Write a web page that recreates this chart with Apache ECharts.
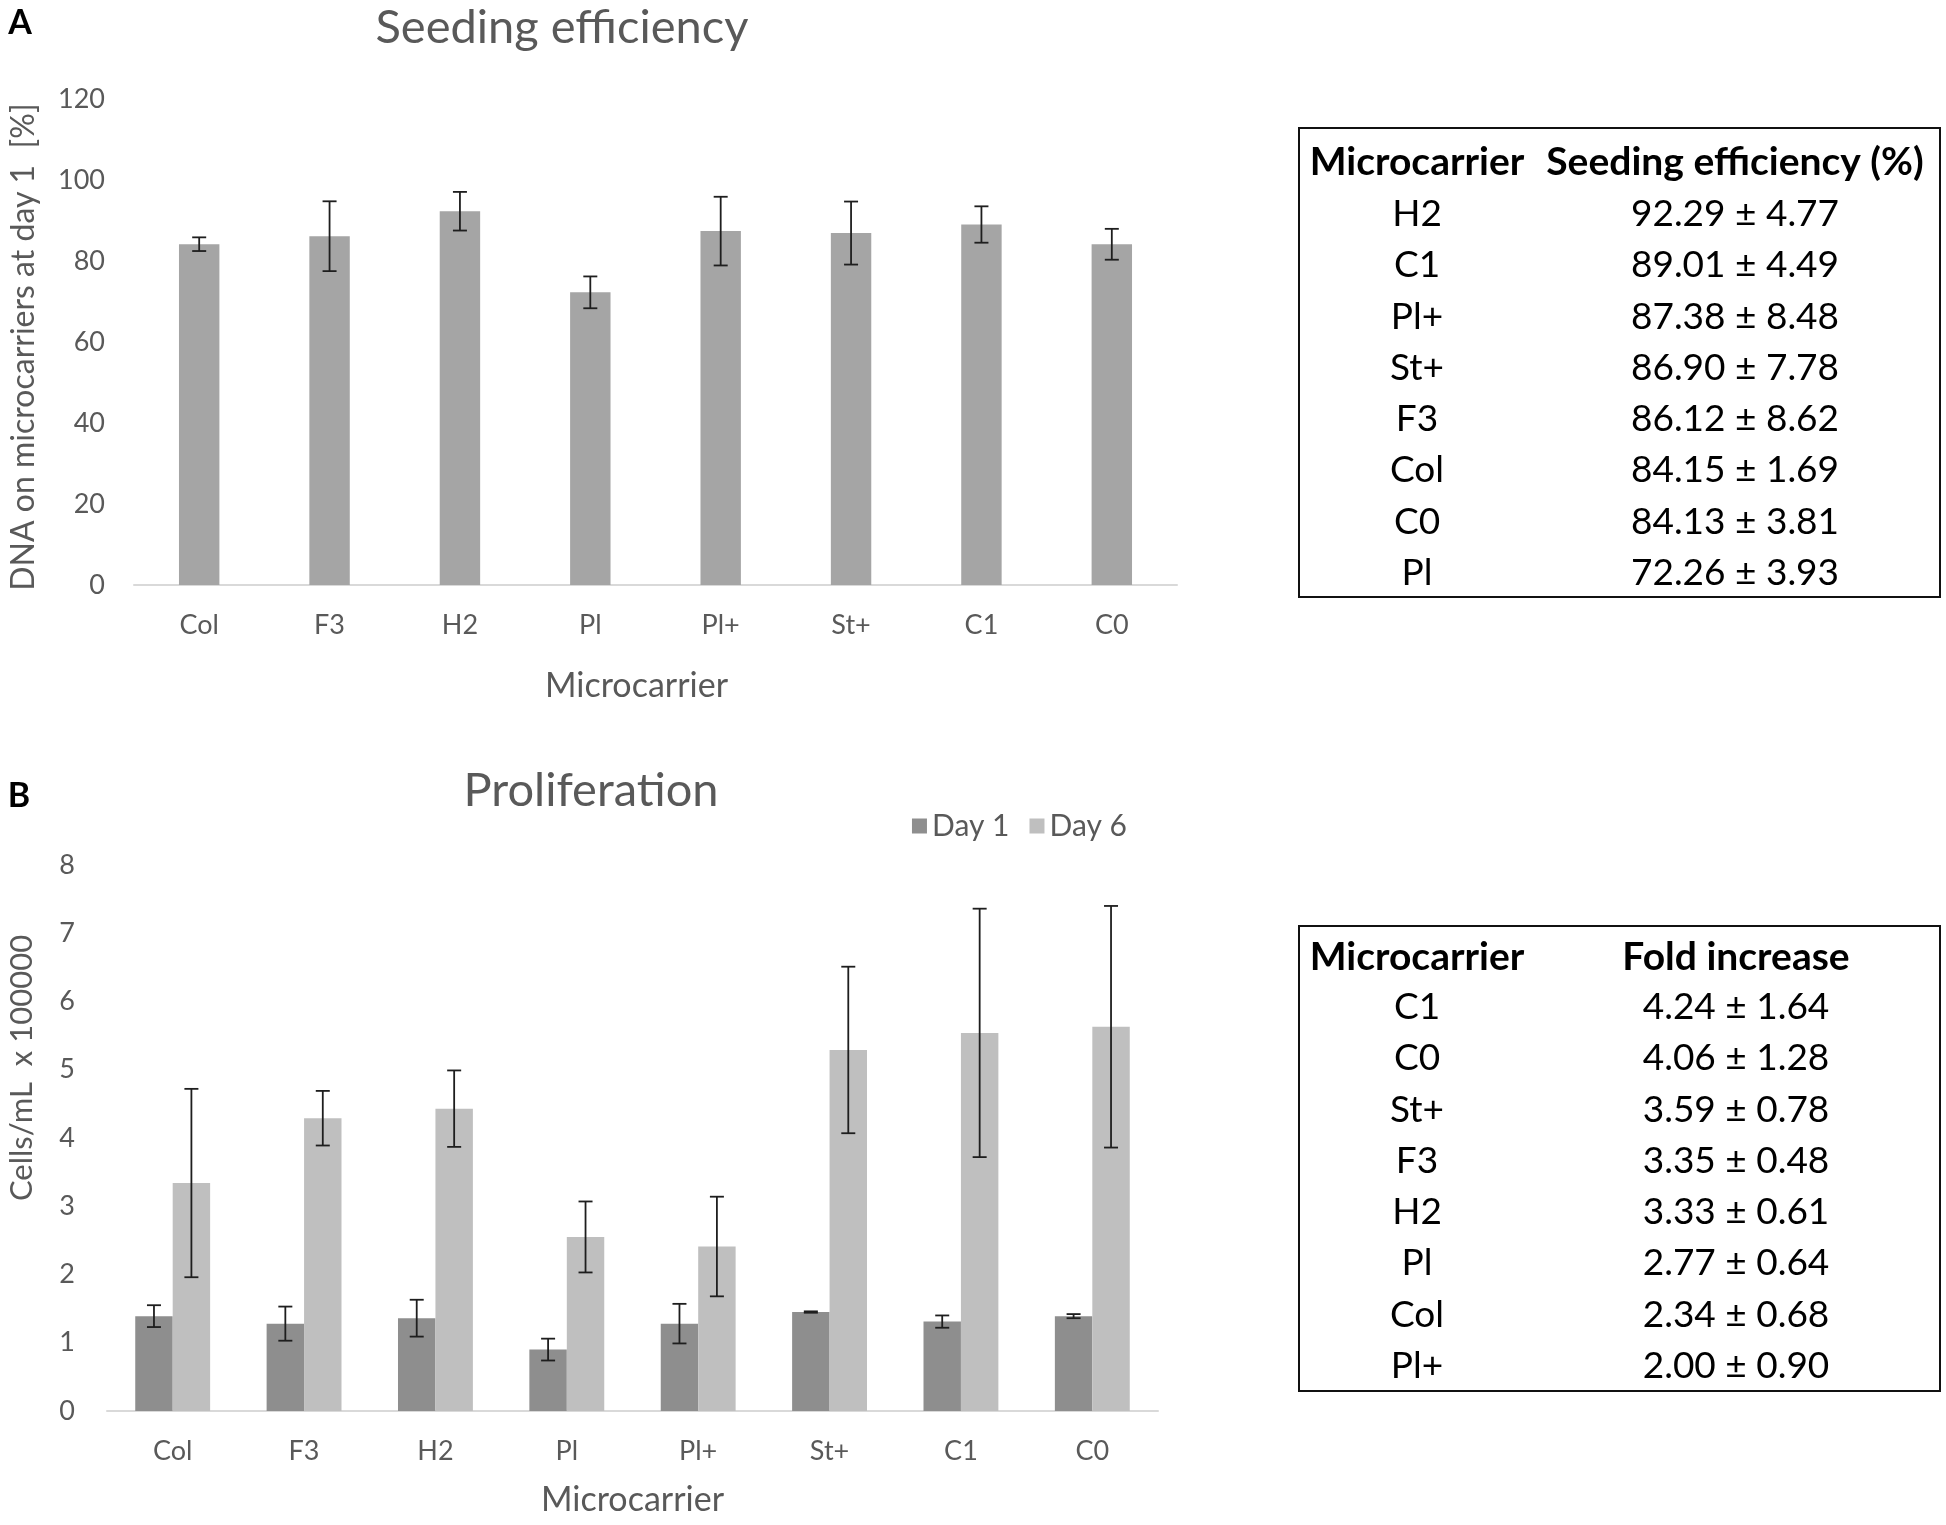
<!DOCTYPE html>
<html>
<head>
<meta charset="utf-8">
<script src="https://cdn.jsdelivr.net/npm/echarts@6/dist/echarts.min.js"></script>
<style>
html,body{margin:0;padding:0;background:#fff;}
#c{width:1946px;height:1525px;}
</style>
</head>
<body>
<div id="c"></div>
<script>
// ---- data ----
var categories = ['Col','F3','H2','Pl','Pl+','St+','C1','C0'];
var seedMean = [84.15, 86.12, 92.29, 72.26, 87.38, 86.90, 89.01, 84.13];
var seedSd   = [1.69, 8.62, 4.77, 3.93, 8.48, 7.78, 4.49, 3.81];
var day1Mean = [1.39, 1.28, 1.36, 0.90, 1.28, 1.45, 1.31, 1.39];
var day1Sd   = [0.16, 0.25, 0.27, 0.16, 0.29, 0.01, 0.09, 0.03];
var day6Mean = [3.34, 4.29, 4.43, 2.55, 2.41, 5.29, 5.54, 5.63];
var day6Sd   = [1.38, 0.40, 0.56, 0.52, 0.73, 1.22, 1.82, 1.77];
var seriesNames = ['Day 1', 'Day 6'];
var tableA_head = ['Microcarrier', 'Seeding efficiency (%)'];
var tableA_names = ['H2','C1','Pl+','St+','F3','Col','C0','Pl'];
var tableA_mean  = [92.29, 89.01, 87.38, 86.90, 86.12, 84.15, 84.13, 72.26];
var tableA_sd    = [4.77, 4.49, 8.48, 7.78, 8.62, 1.69, 3.81, 3.93];
var tableB_head = ['Microcarrier', 'Fold increase'];
var tableB_names = ['C1','C0','St+','F3','H2','Pl','Col','Pl+'];
var tableB_mean  = [4.24, 4.06, 3.59, 3.35, 3.33, 2.77, 2.34, 2.00];
var tableB_sd    = [1.64, 1.28, 0.78, 0.48, 0.61, 0.64, 0.68, 0.90];

// ---- helpers ----
var FONT = 'Lato, "Open Sans", sans-serif';
var TXT = '#595959';
function errData(m, s) { return m.map(function (v, i) { return [i, v, s[i]]; }); }
function errRender(offsetFrac) {
  return function (params, api) {
    var i = api.value(0), m = api.value(1), s = api.value(2);
    var band = api.size([1, 0])[0];
    var hi = api.coord([i, m + s]), lo = api.coord([i, m - s]);
    var x = hi[0] + band * offsetFrac;
    var cw = 7;
    var st = { stroke: '#1e1e1e', lineWidth: 1.8 };
    return { type: 'group', children: [
      { type: 'line', shape: { x1: x, y1: hi[1], x2: x, y2: lo[1] }, style: st },
      { type: 'line', shape: { x1: x - cw, y1: hi[1], x2: x + cw, y2: hi[1] }, style: st },
      { type: 'line', shape: { x1: x - cw, y1: lo[1], x2: x + cw, y2: lo[1] }, style: st }
    ]};
  };
}
function txt(text, x, y, size, weight, color, align, rot) {
  var el = { type: 'text', z: 10, x: x, y: y, style: {
    text: text, x: 0, y: 0, font: (weight || 'normal') + ' ' + size + 'px ' + FONT,
    fill: color || '#000', textAlign: align || 'center', textVerticalAlign: 'middle',
    align: align || 'center', verticalAlign: 'middle' } };
  if (rot) el.rotation = rot;
  return el;
}
function table(x, y, w, h, head, names, means, sds, c1, c2, headY, rowY0, rowStep) {
  var els = [{ type: 'rect', shape: { x: x, y: y, width: w, height: h },
    style: { fill: 'none', stroke: '#111', lineWidth: 2 } }];
  els.push(txt(head[0], c1, headY, 39, 'bold', '#000'));
  els.push(txt(head[1], c2, headY, 39, 'bold', '#000'));
  names.forEach(function (n, k) {
    var yy = rowY0 + rowStep * k;
    els.push(txt(n, c1, yy, 37, 'normal', '#000'));
    els.push(txt(means[k].toFixed(2) + ' \u00b1 ' + sds[k].toFixed(2), c2, yy, 37, 'normal', '#000'));
  });
  return els;
}

var graphics = [
  txt('A', 20, 23, 34, 'bold', '#000'),
  txt('B', 19, 796, 34, 'bold', '#000'),
  txt('Seeding efficiency', 562, 28, 47, 'normal', TXT),
  txt('Proliferation', 591, 791, 47, 'normal', TXT),
  txt('Cells/mL  x 100000', 22, 1068, 31, 'normal', TXT, 'center', Math.PI / 2)
].concat(
  table(1299, 128, 641, 469, tableA_head, tableA_names, tableA_mean, tableA_sd, 1417, 1735, 162, 214, 51.3),
  table(1299, 926, 641, 465, tableB_head, tableB_names, tableB_mean, tableB_sd, 1417, 1736, 957, 1007, 51.3)
);

var axisLabelStyle = { color: TXT, fontSize: 27, fontFamily: FONT };

var option = {
  animation: false,
  backgroundColor: '#fff',
  graphic: graphics,
  legend: {
    data: seriesNames, right: 814, top: 806, itemWidth: 15, itemHeight: 15, itemGap: 20,
    icon: 'rect', textStyle: { color: TXT, fontSize: 30, fontFamily: FONT }
  },
  grid: [
    { left: 131, right: 769, top: 99, bottom: 940 },
    { left: 107, right: 788, top: 865, bottom: 114 }
  ],
  xAxis: [
    { type: 'category', gridIndex: 0, data: categories,
      axisLine: { lineStyle: { color: '#d9d9d9', width: 2 } }, axisTick: { show: false },
      axisLabel: Object.assign({ margin: 27 }, axisLabelStyle),
      name: 'Microcarrier', nameLocation: 'middle', nameGap: 84,
      nameTextStyle: { color: TXT, fontSize: 34, fontFamily: FONT, padding: [0, 38, 0, 0] } },
    { type: 'category', gridIndex: 1, data: categories,
      axisLine: { lineStyle: { color: '#d9d9d9', width: 2 } }, axisTick: { show: false },
      axisLabel: Object.assign({ margin: 27 }, axisLabelStyle),
      name: 'Microcarrier', nameLocation: 'middle', nameGap: 72,
      nameTextStyle: { color: TXT, fontSize: 34, fontFamily: FONT } }
  ],
  yAxis: [
    { type: 'value', gridIndex: 0, min: 0, max: 120, interval: 20,
      axisLine: { show: false }, axisTick: { show: false }, splitLine: { show: false },
      axisLabel: Object.assign({ margin: 29 }, axisLabelStyle),
      name: 'DNA on microcarriers at day 1  [%]', nameLocation: 'middle', nameGap: 94, nameRotate: 90,
      nameTextStyle: { color: TXT, fontSize: 32, fontFamily: FONT, padding: [0, 10, 0, 0] } },
    { type: 'value', gridIndex: 1, min: 0, max: 8, interval: 1,
      axisLine: { show: false }, axisTick: { show: false }, splitLine: { show: false },
      axisLabel: Object.assign({ margin: 32 }, axisLabelStyle) }
  ],
  series: [
    { type: 'bar', name: 'Seeding', xAxisIndex: 0, yAxisIndex: 0, data: seedMean,
      barCategoryGap: '69%', itemStyle: { color: '#a5a5a5' } },
    { type: 'custom', xAxisIndex: 0, yAxisIndex: 0, z: 5, renderItem: errRender(0),
      data: errData(seedMean, seedSd), encode: { x: 0, y: 1 } },
    { type: 'bar', name: seriesNames[0], xAxisIndex: 1, yAxisIndex: 1, data: day1Mean,
      barCategoryGap: '43%', barGap: '0%', itemStyle: { color: '#8e8e8e' } },
    { type: 'bar', name: seriesNames[1], xAxisIndex: 1, yAxisIndex: 1, data: day6Mean,
      barCategoryGap: '43%', barGap: '0%', itemStyle: { color: '#bfbfbf' } },
    { type: 'custom', xAxisIndex: 1, yAxisIndex: 1, z: 5, renderItem: errRender(-0.1425),
      data: errData(day1Mean, day1Sd), encode: { x: 0, y: 1 } },
    { type: 'custom', xAxisIndex: 1, yAxisIndex: 1, z: 5, renderItem: errRender(0.1425),
      data: errData(day6Mean, day6Sd), encode: { x: 0, y: 1 } }
  ]
};
var chart = echarts.init(document.getElementById('c'), null, { renderer: 'canvas' });
chart.setOption(option);
</script>
</body>
</html>
